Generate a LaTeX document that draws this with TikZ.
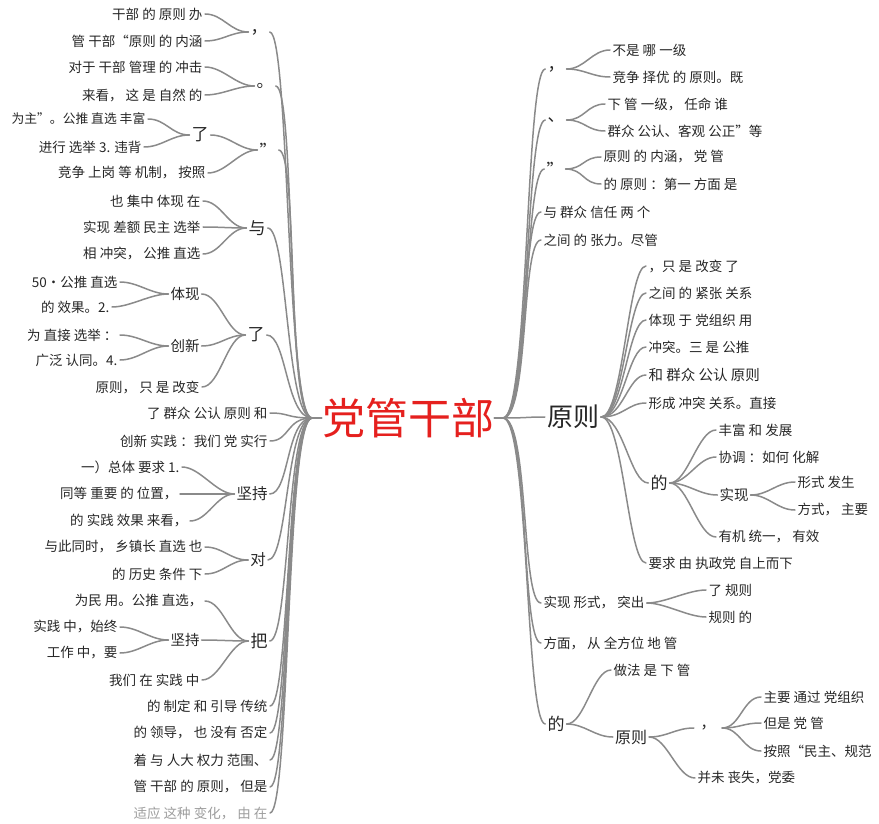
\documentclass[tikz,border=0pt]{standalone}
\usepackage{fontspec}
\setmainfont{Noto Sans CJK SC}
\definecolor{txt}{HTML}{262626}
\definecolor{lnc}{HTML}{8A8A8A}
\definecolor{rootred}{HTML}{E5201E}
\newcommand\lnkL[3][18]{\draw[lnk] (#2) .. controls +(-#1,0) and +(#1,0) .. (#3);}
\newcommand\lnkR[3][18]{\draw[lnk] (#2) .. controls +(#1,0) and +(-#1,0) .. (#3);}
\tikzset{
  lf/.style={font=\fontsize{13.5}{15}\selectfont, text=txt, inner sep=2.5pt},
  md/.style={font=\fontsize{17}{19}\selectfont, text=txt, inner sep=2pt},
  sm/.style={font=\fontsize{14.5}{16}\selectfont, text=txt, inner sep=2pt},
  lnk/.style={draw=lnc, line width=1.5pt, line cap=round},
}
\begin{document}
\begin{tikzpicture}[x=1pt,y=-1pt]
\useasboundingbox (0,0) rectangle (879,824);
\node[font=\fontsize{43}{45}\selectfont, text=rootred, inner sep=0pt] (root) at (408,418) {党管干部};
\coordinate (LJ) at (312,418);
\coordinate (RJ) at (503,418);
\draw[lnk] (LJ) -- (root.west);
\draw[lnk] (RJ) -- (root.east);

% ---------------- left side ----------------
\node[md] (l1) at (259,32) {，};
\node[lf,anchor=east] (l1a) at (205,14) {干部 的 原则 办};
\node[lf,anchor=east] (l1b) at (205,41) {管 干部“原则 的 内涵};
\node[md] (l2) at (265,86) {。};
\node[lf,anchor=east] (l2a) at (205,67) {对于 干部 管理 的 冲击};
\node[lf,anchor=east] (l2b) at (205,95) {来看， 这 是 自然 的};
\node[md] (l3) at (268,150) {”};
\node[md] (l3a) at (200,135) {了};
\node[lf,anchor=east,font=\fontsize{12.8}{14}\selectfont] (l3a1) at (148,119) {为主”。公推 直选 丰富};
\node[lf,anchor=east] (l3a2) at (144,147) {进行 选举 3. 违背};
\node[lf,anchor=east] (l3b) at (208,173) {竞争 上岗 等 机制， 按照};
\node[md] (l4) at (257,228) {与};
\node[lf,anchor=east] (l4a) at (203,201) {也 集中 体现 在};
\node[lf,anchor=east] (l4b) at (203,227) {实现 差额 民主 选举};
\node[lf,anchor=east] (l4c) at (203,254) {相 冲突， 公推 直选};
\node[md] (l5) at (256,335) {了};
\node[sm] (l5a) at (185,294) {体现};
\node[lf,anchor=east] (l5a1) at (120,282) {50·公推 直选};
\node[lf,anchor=east] (l5a2) at (112,307) {的 效果。2.};
\node[sm] (l5b) at (185,346) {创新};
\node[lf,anchor=east] (l5b1) at (120,335) {为 直接 选举 ：};
\node[lf,anchor=east] (l5b2) at (120,360) {广泛 认同。4.};
\node[lf,anchor=east] (l5c) at (202,387) {原则， 只 是 改变};
\node[lf,anchor=east] (l6) at (270,413) {了 群众 公认 原则 和};
\node[lf,anchor=east] (l7) at (270,441) {创新 实践 ：我们 党 实行};
\node[md,font=\fontsize{15.5}{17}\selectfont] (l8) at (252,494) {坚持};
\node[lf,anchor=east] (l8a) at (182,467) {一）总体 要求 1.};
\node[lf,anchor=east] (l8b) at (180,494) {同等 重要 的 位置，};
\node[lf,anchor=east] (l8c) at (190,521) {的 实践 效果 来看，};
\node[md,font=\fontsize{15.5}{17}\selectfont] (l9) at (258,560) {对};
\node[lf,anchor=east] (l9a) at (205,547) {与此同时， 乡镇长 直选 也};
\node[lf,anchor=east] (l9b) at (205,574) {的 历史 条件 下};
\node[md] (l10) at (259,641) {把};
\node[lf,anchor=east] (l10a) at (205,601) {为民 用。公推 直选，};
\node[sm] (l10b) at (185,640) {坚持};
\node[lf,anchor=east] (l10b1) at (120,627) {实践 中，始终};
\node[lf,anchor=east] (l10b2) at (120,653) {工作 中，要};
\node[lf,anchor=east] (l10c) at (202,680) {我们 在 实践 中};
\node[lf,anchor=east] (l11) at (270,706) {的 制定 和 引导 传统};
\node[lf,anchor=east] (l12) at (270,733) {的 领导， 也 没有 否定};
\node[lf,anchor=east] (l13) at (270,760) {着 与 人大 权力 范围、};
\node[lf,anchor=east] (l14) at (270,787) {管 干部 的 原则， 但是};
\node[lf,anchor=east,text=txt!45] (l15) at (270,813) {适应 这种 变化， 由 在};

\foreach \n in {l1,l2,l3,l4,l5,l6,l7,l8,l9,l10,l11,l12,l13,l14,l15}{
  \draw[lnk] (LJ) .. controls +(-26,0) and +(20,0) .. (\n.east);
}
\lnkL{l1.west}{l1a.east}\lnkL{l1.west}{l1b.east}
\lnkL{l2.west}{l2a.east}\lnkL{l2.west}{l2b.east}
\lnkL{l3.west}{l3a.east}\lnkL{l3.west}{l3b.east}
\lnkL{l3a.west}{l3a1.east}\lnkL{l3a.west}{l3a2.east}
\lnkL{l4.west}{l4a.east}\lnkL{l4.west}{l4b.east}\lnkL{l4.west}{l4c.east}
\lnkL{l5.west}{l5a.east}\lnkL{l5.west}{l5b.east}\lnkL{l5.west}{l5c.east}
\lnkL{l5a.west}{l5a1.east}\lnkL{l5a.west}{l5a2.east}
\lnkL{l5b.west}{l5b1.east}\lnkL{l5b.west}{l5b2.east}
\lnkL{l8.west}{l8a.east}\lnkL{l8.west}{l8b.east}\lnkL{l8.west}{l8c.east}
\lnkL{l9.west}{l9a.east}\lnkL{l9.west}{l9b.east}
\lnkL{l10.west}{l10a.east}\lnkL{l10.west}{l10b.east}\lnkL{l10.west}{l10c.east}
\lnkL{l10b.west}{l10b1.east}\lnkL{l10b.west}{l10b2.east}

% ---------------- right side ----------------
\node[md] (r1) at (556,69) {，};
\node[lf,anchor=west] (r1a) at (610,50) {不是 哪 一级};
\node[lf,anchor=west] (r1b) at (610,77) {竞争 择优 的 原则。既};
\node[md] (r2) at (556,120) {、};
\node[lf,anchor=west] (r2a) at (605,104) {下 管 一级， 任命 谁};
\node[lf,anchor=west] (r2b) at (605,131) {群众 公认、客观 公正”等};
\node[md] (r3) at (555,169) {”};
\node[lf,anchor=west] (r3a) at (601,157) {原则 的 内涵， 党 管};
\node[lf,anchor=west] (r3b) at (601,184) {的 原则 ：第一 方面 是};
\node[lf,anchor=west] (r4) at (541,212) {与 群众 信任 两 个};
\node[lf,anchor=west] (r5) at (541,240) {之间 的 张力。尽管};
\node[font=\fontsize{26}{28}\selectfont, text=txt, inner sep=2pt] (r6) at (573,417) {原则};
\node[lf,anchor=west] (r6a) at (646,266) {，只 是 改变 了};
\node[lf,anchor=west] (r6b) at (646,293) {之间 的 紧张 关系};
\node[lf,anchor=west] (r6c) at (646,320) {体现 于 党组织 用};
\node[lf,anchor=west] (r6d) at (646,347) {冲突。三 是 公推};
\node[lf,anchor=west,font=\fontsize{14.5}{16}\selectfont] (r6e) at (646,375) {和 群众 公认 原则};
\node[lf,anchor=west] (r6f) at (646,403) {形成 冲突 关系。直接};
\node[md] (r6g) at (659,483) {的};
\node[lf,anchor=west] (r6g1) at (716,430) {丰富 和 发展};
\node[lf,anchor=west] (r6g2) at (716,457) {协调 ：如何 化解};
\node[sm] (r6g3) at (734,495) {实现};
\node[lf,anchor=west] (r6g3a) at (795,482) {形式 发生};
\node[lf,anchor=west] (r6g3b) at (795,510) {方式， 主要};
\node[lf,anchor=west] (r6g4) at (716,537) {有机 统一， 有效};
\node[lf,anchor=west] (r6h) at (646,563) {要求 由 执政党 自上而下};
\node[lf,anchor=west] (r7) at (541,603) {实现 形式， 突出};
\node[lf,anchor=west] (r7a) at (706,590) {了 规则};
\node[lf,anchor=west] (r7b) at (706,617) {规则 的};
\node[lf,anchor=west] (r8) at (541,643) {方面， 从 全方位 地 管};
\node[md] (r9) at (556,724) {的};
\node[lf,anchor=west] (r9a) at (611,670) {做法 是 下 管};
\node[md,font=\fontsize{16}{18}\selectfont] (r9b) at (631,737) {原则};
\node[md,font=\fontsize{15}{17}\selectfont, minimum width=28pt] (r9b1) at (708,728) {，};
\node[lf,anchor=west] (r9b1a) at (761,697) {主要 通过 党组织};
\node[lf,anchor=west] (r9b1b) at (761,723) {但是 党 管};
\node[lf,anchor=west] (r9b1c) at (761,751) {按照“民主、规范};
\node[lf,anchor=west] (r9b2) at (695,778) {并未 丧失，党委};

\foreach \n in {r1,r2,r3,r4,r5,r6,r7,r8,r9}{
  \draw[lnk] (RJ) .. controls +(26,0) and +(-20,0) .. (\n.west);
}
\lnkR{r1.east}{r1a.west}\lnkR{r1.east}{r1b.west}
\lnkR{r2.east}{r2a.west}\lnkR{r2.east}{r2b.west}
\lnkR{r3.east}{r3a.west}\lnkR{r3.east}{r3b.west}
\foreach \n in {r6a,r6b,r6c,r6d,r6e,r6f,r6g,r6h}{
  \draw[lnk] (r6.east) .. controls +(22,0) and +(-18,0) .. (\n.west);
}
\lnkR{r6g.east}{r6g1.west}\lnkR{r6g.east}{r6g2.west}\lnkR{r6g.east}{r6g3.west}\lnkR{r6g.east}{r6g4.west}
\lnkR{r6g3.east}{r6g3a.west}\lnkR{r6g3.east}{r6g3b.west}
\lnkR{r7.east}{r7a.west}\lnkR{r7.east}{r7b.west}
\lnkR{r9.east}{r9a.west}\lnkR{r9.east}{r9b.west}
\lnkR{r9b.east}{r9b1.west}\lnkR{r9b.east}{r9b2.west}
\lnkR{r9b1.east}{r9b1a.west}\lnkR{r9b1.east}{r9b1b.west}\lnkR{r9b1.east}{r9b1c.west}
\end{tikzpicture}
\end{document}
